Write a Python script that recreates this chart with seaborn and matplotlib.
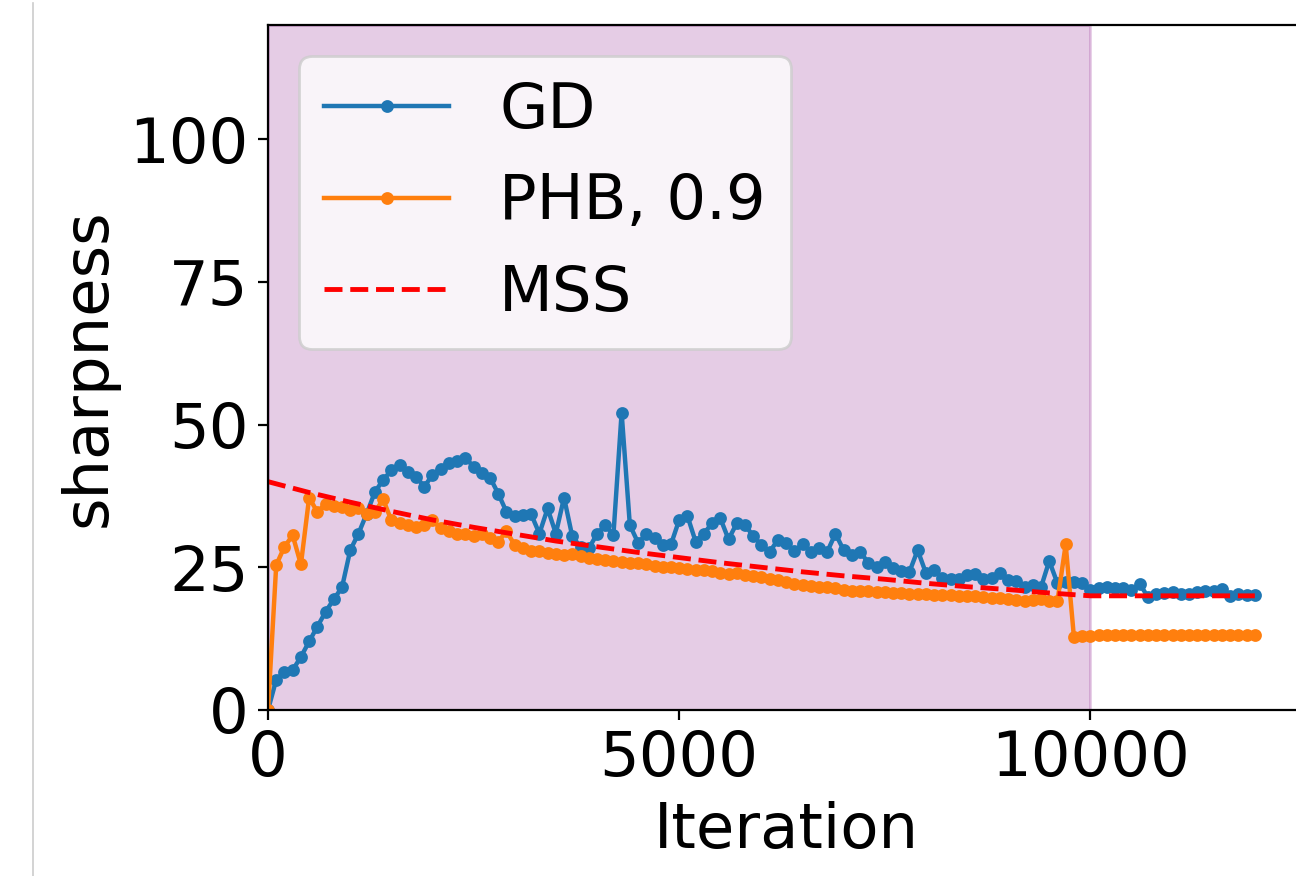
import numpy as np
import matplotlib
matplotlib.use("Agg")
import matplotlib.pyplot as plt
from matplotlib.lines import Line2D
import seaborn as sns

# Iterations where sharpness was logged (every 100 steps)
iterations = np.arange(0, 12001, 100)

# GD sharpness values
gd_sharpness = [
    0.0, 5.3, 6.7, 7.0, 9.3, 12.0, 14.6, 17.2, 19.4, 21.5,
    28.0, 30.9, 34.4, 38.2, 40.3, 42.0, 42.9, 41.7, 40.9, 39.1,
    41.2, 42.3, 43.3, 43.6, 44.2, 42.6, 41.6, 40.7, 37.9, 34.7,
    33.9, 34.2, 34.3, 30.9, 35.3, 30.9, 37.2, 30.4, 28.6, 28.3,
    30.8, 32.4, 30.6, 52.1, 32.4, 29.3, 30.8, 30.2, 28.9, 29.0,
    33.3, 34.0, 29.5, 30.9, 32.7, 33.6, 29.9, 32.7, 32.4, 30.5,
    28.9, 27.7, 29.8, 29.2, 27.9, 29.0, 27.7, 28.3, 27.7, 30.9,
    28.0, 27.1, 27.7, 25.8, 25.1, 26.0, 24.8, 24.4, 24.2, 28.0,
    24.0, 24.5, 23.1, 22.9, 22.9, 23.6, 23.8, 22.9, 23.2, 24.0,
    22.8, 22.6, 21.5, 21.9, 21.5, 26.1, 22.2, 22.5, 22.5, 22.2,
    21.0, 21.3, 21.6, 21.4, 21.3, 21.0, 22.1, 19.8, 20.4, 20.5,
    20.7, 20.4, 20.4, 20.7, 20.8, 20.8, 21.2, 19.9, 20.4, 20.1,
    20.1,
]

# PHB (momentum 0.9) sharpness values
phb_sharpness = [
    0.0, 25.4, 28.6, 30.6, 25.5, 37.2, 34.7, 36.1, 35.7, 35.5,
    35.0, 35.3, 34.4, 34.7, 36.9, 33.2, 32.7, 32.4, 32.1, 32.4,
    33.2, 31.8, 31.4, 30.9, 30.8, 30.5, 30.8, 30.1, 29.5, 31.3,
    28.9, 28.3, 27.9, 27.9, 27.5, 27.3, 27.1, 27.3, 27.0, 26.6,
    26.4, 26.2, 26.1, 26.0, 25.8, 25.7, 25.5, 25.3, 25.1, 25.0,
    24.9, 24.7, 24.5, 24.5, 24.3, 24.0, 23.9, 24.0, 23.7, 23.5,
    23.3, 23.0, 22.8, 22.4, 22.1, 21.9, 21.7, 21.6, 21.5, 21.3,
    21.0, 20.9, 20.8, 20.8, 20.7, 20.6, 20.5, 20.5, 20.4, 20.4,
    20.3, 20.2, 20.1, 20.1, 20.0, 19.9, 19.9, 19.8, 19.7, 19.6,
    19.5, 19.3, 19.1, 19.3, 19.4, 19.1, 19.1, 29.0, 12.8, 13.0,
    13.0, 13.1, 13.1, 13.2, 13.1, 13.2, 13.2, 13.2, 13.1, 13.2,
    13.2, 13.2, 13.1, 13.2, 13.2, 13.2, 13.2, 13.1, 13.2, 13.2,
    13.1,
]

# MSS reference curve, every 500 iterations
mss_iterations = np.arange(0, 12001, 500)
mss_values = [
    40.0, 38.1, 36.4, 34.8, 33.3, 32.0, 30.8, 29.6, 28.6, 27.6,
    26.7, 25.8, 25.0, 24.2, 23.5, 22.9, 22.2, 21.6, 21.1, 20.5,
    20.0, 20.0, 20.0, 20.0, 20.0,
]

shade_end = 10000

fig = plt.figure(figsize=(6.48, 4.38), dpi=200)
ax = fig.add_axes([0.2068, 0.1895, 0.7995, 0.782])

# Shaded region for the first phase
ax.axvspan(0, shade_end, color="purple", alpha=0.2)

sns.lineplot(
    x=iterations, y=gd_sharpness, ax=ax,
    color="#1f77b4", linewidth=1.6,
    marker="o", markersize=3.6, markeredgewidth=1, markeredgecolor="#1f77b4",
    label="GD"
)
sns.lineplot(
    x=iterations, y=phb_sharpness, ax=ax,
    color="#ff7f0e", linewidth=1.6,
    marker="o", markersize=3.6, markeredgewidth=1, markeredgecolor="#ff7f0e",
    label="PHB, 0.9"
)
sns.lineplot(
    x=mss_iterations, y=mss_values, ax=ax,
    color="red", linewidth=1.75, linestyle="--",
    label="MSS"
)

ax.set_xlim(0, 12600)
ax.set_ylim(0, 120)
ax.set_xticks([0, 5000, 10000])
ax.set_yticks([0, 25, 50, 75, 100])
ax.tick_params(labelsize=22.5)

ax.set_xlabel("Iteration", fontsize=22.5)
ax.set_ylabel("sharpness", fontsize=22.5)

ax.legend(loc="upper left", fontsize=22.5)

# Thin grey border line at the left of the screenshot
fig.add_artist(Line2D([0.0255, 0.0255], [0.0, 0.997], color="#cccccc", linewidth=0.6))

plt.savefig("out.png", dpi=200)
